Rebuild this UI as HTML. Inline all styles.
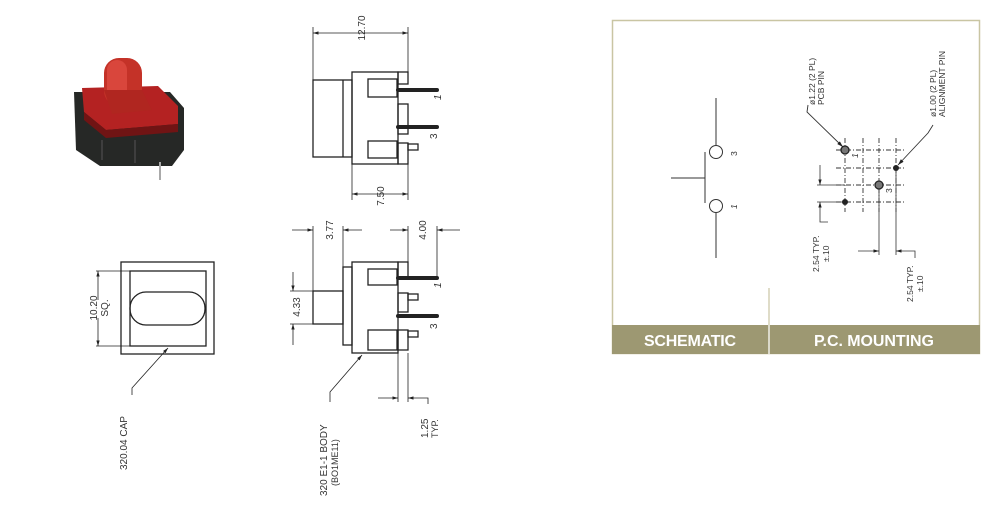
<!DOCTYPE html>
<html><head><meta charset="utf-8"><style>
html,body{margin:0;padding:0;background:#fff;}
svg{display:block;}
text{font-family:"Liberation Sans",sans-serif;fill:#333;}
</style></head><body>
<svg width="1000" height="508" viewBox="0 0 1000 508" xmlns="http://www.w3.org/2000/svg">
<defs>
<marker id="a" viewBox="0 0 10 10" refX="10" refY="5" markerWidth="7" markerHeight="7" orient="auto-start-reverse"><path d="M0,2 L10,5 L0,8 z" fill="#222"/></marker>
</defs>
<!-- photo -->
<g>
<polygon points="74,92 170,92 184,108 184,150 172,166 100,166 76,150" fill="#262826"/>
<polygon points="82,88 158,86 178,106 178,124 106,130 84,112" fill="#b42222"/>
<polygon points="84,112 106,130 178,124 178,132 106,138 84,120" fill="#701414"/>
<rect x="104" y="58" width="38" height="48" rx="15" fill="#c43228"/>
<rect x="107" y="60" width="20" height="42" rx="10" fill="#d9463c"/>
<polygon points="104,90 142,90 152,110 112,114" fill="#b02620"/>
<line x1="160" y1="162" x2="160" y2="180" stroke="#aaa" stroke-width="2"/>
<line x1="102" y1="140" x2="102" y2="160" stroke="#555" stroke-width="1"/>
<line x1="135" y1="140" x2="135" y2="163" stroke="#555" stroke-width="1"/>
</g>
<g fill="none" stroke="#222" stroke-width="1.3">
<!-- cap view -->
<rect x="121" y="262" width="93" height="92"/>
<rect x="130" y="271" width="76" height="75"/>
<rect x="130" y="292" width="75" height="33" rx="16"/>
<line x1="96" y1="271" x2="130" y2="271" stroke-width="0.8"/>
<line x1="96" y1="346" x2="130" y2="346" stroke-width="0.8"/>
<line x1="98" y1="300" x2="98" y2="271" stroke-width="0.8" marker-end="url(#a)"/>
<line x1="98" y1="318" x2="98" y2="346" stroke-width="0.8" marker-end="url(#a)"/>
<polyline points="132,395 132,388 168,348" stroke-width="0.8" marker-end="url(#a)"/>

<!-- top side view -->
<line x1="313" y1="27" x2="313" y2="80" stroke-width="0.8"/>
<line x1="408" y1="27" x2="408" y2="72" stroke-width="0.8"/>
<line x1="313" y1="33" x2="408" y2="33" stroke-width="0.8" marker-start="url(#a)" marker-end="url(#a)"/>
<rect x="313" y="80" width="39" height="77"/>
<line x1="343" y1="80" x2="343" y2="157"/>
<rect x="352" y="72" width="46" height="92"/>
<rect x="368" y="79" width="29" height="18"/>
<rect x="368" y="141" width="29" height="17"/>
<rect x="398" y="72" width="10" height="12"/>
<rect x="398" y="104" width="10" height="30"/>
<rect x="398" y="143" width="10" height="21"/>
<rect x="408" y="144" width="10" height="6"/>
<line x1="398" y1="90" x2="437" y2="90" stroke-width="4" stroke-linecap="round"/>
<line x1="398" y1="127" x2="437" y2="127" stroke-width="4" stroke-linecap="round"/>
<line x1="352" y1="164" x2="352" y2="200" stroke-width="0.8"/>
<line x1="408" y1="164" x2="408" y2="200" stroke-width="0.8"/>
<line x1="352" y1="194" x2="408" y2="194" stroke-width="0.8" marker-start="url(#a)" marker-end="url(#a)"/>

<!-- bottom side view -->
<rect x="343" y="267" width="9" height="78"/>
<rect x="313" y="291" width="30" height="33"/>
<rect x="352" y="262" width="46" height="91"/>
<rect x="368" y="269" width="29" height="16"/>
<rect x="368" y="330" width="29" height="20"/>
<rect x="398" y="262" width="10" height="15"/>
<rect x="398" y="293" width="10" height="19"/>
<rect x="398" y="330" width="10" height="20"/>
<rect x="408" y="294" width="10" height="6"/>
<rect x="408" y="331" width="10" height="6"/>
<line x1="398" y1="278" x2="437" y2="278" stroke-width="4" stroke-linecap="round"/>
<line x1="398" y1="316" x2="437" y2="316" stroke-width="4" stroke-linecap="round"/>
<line x1="313" y1="226" x2="313" y2="291" stroke-width="0.8"/>
<line x1="343" y1="226" x2="343" y2="267" stroke-width="0.8"/>
<line x1="292" y1="230" x2="313" y2="230" stroke-width="0.8" marker-end="url(#a)"/>
<line x1="362" y1="230" x2="343" y2="230" stroke-width="0.8" marker-end="url(#a)"/>
<line x1="408" y1="226" x2="408" y2="262" stroke-width="0.8"/>
<line x1="437" y1="226" x2="437" y2="278" stroke-width="0.8"/>
<line x1="390" y1="230" x2="408" y2="230" stroke-width="0.8" marker-end="url(#a)"/>
<line x1="460" y1="230" x2="437" y2="230" stroke-width="0.8" marker-end="url(#a)"/>
<line x1="290" y1="291" x2="313" y2="291" stroke-width="0.8"/>
<line x1="290" y1="324" x2="313" y2="324" stroke-width="0.8"/>
<line x1="293" y1="272" x2="293" y2="291" stroke-width="0.8" marker-end="url(#a)"/>
<line x1="293" y1="345" x2="293" y2="324" stroke-width="0.8" marker-end="url(#a)"/>
<line x1="398" y1="353" x2="398" y2="402" stroke-width="0.8"/>
<line x1="408" y1="353" x2="408" y2="402" stroke-width="0.8"/>
<line x1="378" y1="398" x2="398" y2="398" stroke-width="0.8" marker-end="url(#a)"/>
<polyline points="428,404 428,398 408,398" stroke-width="0.8" marker-end="url(#a)"/>
<polyline points="330,402 330,392 362,355" stroke-width="0.8" marker-end="url(#a)"/>
</g>
<g font-size="10">
<text transform="translate(365,28) rotate(-90)" text-anchor="middle">12.70</text>
<text transform="translate(384,196) rotate(-90)" text-anchor="middle">7.50</text>
<text transform="translate(441,100) rotate(-90)" font-style="italic">1</text>
<text transform="translate(437,139) rotate(-90)">3</text>
<text transform="translate(333,230) rotate(-90)" text-anchor="middle">3.77</text>
<text transform="translate(426,230) rotate(-90)" text-anchor="middle">4.00</text>
<text transform="translate(300,307) rotate(-90)" text-anchor="middle">4.33</text>
<text transform="translate(441,288) rotate(-90)" font-style="italic">1</text>
<text transform="translate(437,329) rotate(-90)">3</text>
<text transform="translate(428,438) rotate(-90)">1.25</text>
<text transform="translate(438,438) rotate(-90)" font-size="9">TYP.</text>
<text transform="translate(327,496) rotate(-90)">320 E1-1  BODY</text>
<text transform="translate(338,486) rotate(-90)" font-size="9">(BO1ME11)</text>
<text transform="translate(97,308) rotate(-90)" text-anchor="middle">10.20</text>
<text transform="translate(108,308) rotate(-90)" text-anchor="middle">SQ.</text>
<text transform="translate(127,470) rotate(-90)">320.04  CAP</text>
</g>

<!-- right panel -->
<rect x="612.5" y="20.5" width="367" height="333" fill="#fff" stroke="#c9c5a3" stroke-width="1.5"/>
<rect x="612" y="325" width="368" height="29" fill="#9d9872"/>
<line x1="769" y1="288" x2="769" y2="354" stroke="#c9c5a3" stroke-width="1.2"/>
<line x1="769" y1="325" x2="769" y2="354" stroke="#fff" stroke-width="1.2"/>
<text x="690" y="346" font-size="16" font-weight="bold" style="fill:#fff" text-anchor="middle" textLength="92">SCHEMATIC</text>
<text x="874" y="346" font-size="16" font-weight="bold" style="fill:#fff" text-anchor="middle" textLength="120">P.C. MOUNTING</text>
<g fill="none" stroke="#333" stroke-width="1">
<line x1="716" y1="98" x2="716" y2="145"/>
<circle cx="716" cy="152" r="6.5"/>
<circle cx="716" cy="206" r="6.5"/>
<line x1="716" y1="213" x2="716" y2="258"/>
<line x1="705" y1="152" x2="705" y2="203"/>
<line x1="671" y1="178" x2="705" y2="178"/>
<g stroke-dasharray="5,2,1,2" stroke-width="0.9">
<line x1="845" y1="138" x2="845" y2="212"/>
<line x1="863" y1="138" x2="863" y2="212"/>
<line x1="879" y1="138" x2="879" y2="212"/>
<line x1="896" y1="138" x2="896" y2="212"/>
<line x1="836" y1="150" x2="906" y2="150"/>
<line x1="836" y1="168" x2="906" y2="168"/>
<line x1="836" y1="185" x2="906" y2="185"/>
<line x1="836" y1="202" x2="906" y2="202"/>
</g>
<line x1="817" y1="185" x2="845" y2="185" stroke-width="0.8"/>
<line x1="817" y1="202" x2="845" y2="202" stroke-width="0.8"/>
<line x1="820" y1="165" x2="820" y2="185" stroke-width="0.8" marker-end="url(#a)"/>
<polyline points="828,222 820,222 820,202" stroke-width="0.8" marker-end="url(#a)"/>
<line x1="879" y1="185" x2="879" y2="255" stroke-width="0.8"/>
<line x1="896" y1="168" x2="896" y2="255" stroke-width="0.8"/>
<line x1="858" y1="251" x2="879" y2="251" stroke-width="0.8" marker-end="url(#a)"/>
<polyline points="915,258 915,251 896,251" stroke-width="0.8" marker-end="url(#a)"/>
<polyline points="808,105 807,112 843,147" stroke-width="0.9" marker-end="url(#a)"/>
<polyline points="933,125 928,133 898,165" stroke-width="0.9" marker-end="url(#a)"/>
</g>
<circle cx="845" cy="150" r="4" fill="#777" stroke="#222" stroke-width="1.3"/>
<circle cx="896" cy="168" r="3" fill="#222"/>
<circle cx="879" cy="185" r="4" fill="#777" stroke="#222" stroke-width="1.3"/>
<circle cx="845" cy="202" r="3" fill="#222"/>
<g font-size="8.5">
<text transform="translate(737,156) rotate(-90)">3</text>
<text transform="translate(737,209) rotate(-90)" font-style="italic">1</text>
<text transform="translate(858,158) rotate(-90)" font-style="italic">1</text>
<text transform="translate(892,193) rotate(-90)">3</text>
<text transform="translate(815,105) rotate(-90)">ø1.22  (2 PL)</text>
<text transform="translate(824,105) rotate(-90)">PCB  PIN</text>
<text transform="translate(936,117) rotate(-90)">ø1.00  (2 PL)</text>
<text transform="translate(945,117) rotate(-90)">ALIGNMENT  PIN</text>
<text transform="translate(819,272) rotate(-90)">2.54  TYP.</text>
<text transform="translate(829,262) rotate(-90)">±.10</text>
<text transform="translate(913,302) rotate(-90)">2.54  TYP.</text>
<text transform="translate(923,292) rotate(-90)">±.10</text>
</g>
</svg>
</body></html>
